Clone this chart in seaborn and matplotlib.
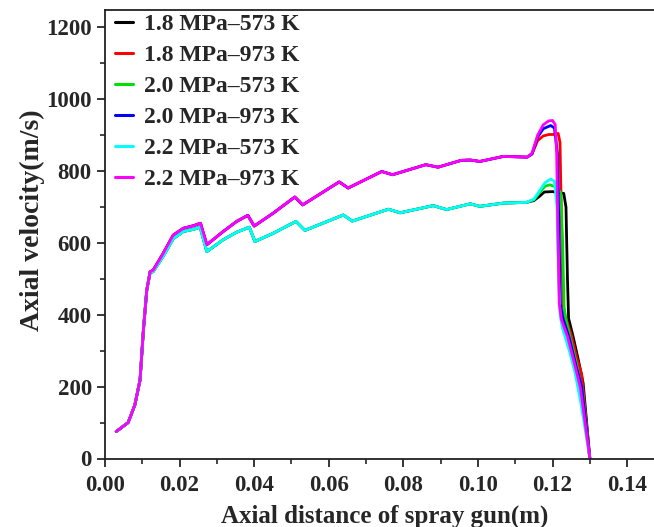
import numpy as np
import pandas as pd
import matplotlib
matplotlib.use("Agg")
import matplotlib.pyplot as plt
from matplotlib.ticker import MultipleLocator
import seaborn as sns

# ---------------- data ----------------
labels = ["1.8 MPa\u2013573 K", "1.8 MPa\u2013973 K", "2.0 MPa\u2013573 K",
          "2.0 MPa\u2013973 K", "2.2 MPa\u2013573 K", "2.2 MPa\u2013973 K"]
colors = ["#000000", "#ff0000", "#00e000", "#0000ff", "#00ffff", "#ff00ff"]

# common part of the 973 K curves
hot_x = [0.0030, 0.0062, 0.0080, 0.0094, 0.0103, 0.0112, 0.0121, 0.0129, 0.0156,
         0.0183, 0.0210, 0.0237, 0.0256, 0.0273, 0.0317, 0.0353, 0.0383, 0.0400,
         0.0451, 0.0509, 0.0530, 0.0628, 0.0652, 0.0742, 0.0771, 0.0860, 0.0893,
         0.0955, 0.0979, 0.1005, 0.1068, 0.1132]
hot_y = [75, 100, 149, 219, 358, 469, 520, 524, 571,
         622, 641, 648, 655, 595, 632, 660, 677, 647,
         683, 728, 706, 770, 753, 799, 790, 818, 811,
         830, 831, 827, 841, 839]

# common part of the 573 K curves
cold_x = [0.0030, 0.0062, 0.0080, 0.0094, 0.0103, 0.0112, 0.0121, 0.0129, 0.0156,
          0.0183, 0.0210, 0.0237, 0.0255, 0.0273, 0.0317, 0.0353, 0.0387, 0.0402,
          0.0451, 0.0512, 0.0536, 0.0639, 0.0663, 0.0760, 0.0791, 0.0880, 0.0916,
          0.0979, 0.1005, 0.1068, 0.1130]
cold_y = [75, 100, 149, 219, 358, 469, 518, 520, 563,
          612, 632, 638, 644, 576, 609, 630, 644, 604,
          627, 660, 635, 678, 661, 694, 684, 704, 693,
          709, 702, 711, 713]

# individual tails near the nozzle exit
tail_x_18_573 = [0.1150, 0.1165, 0.1178, 0.1200, 0.1230, 0.1236, 0.1240, 0.1243, 0.1255, 0.1270, 0.1282, 0.1300]
tail_y_18_573 = [718, 730, 742, 743, 738, 700, 500, 390, 340, 270, 210, 0]
tail_x_18_973 = [0.1145, 0.1160, 0.1175, 0.1190, 0.1205, 0.1215, 0.1220, 0.1224, 0.1228, 0.1234, 0.1250, 0.1265, 0.1278, 0.1300]
tail_y_18_973 = [848, 885, 898, 902, 902, 905, 880, 650, 430, 395, 345, 280, 235, 0]
tail_x_20_573 = [0.1150, 0.1165, 0.1180, 0.1193, 0.1210, 0.1222, 0.1227, 0.1231, 0.1236, 0.1250, 0.1265, 0.1280, 0.1300]
tail_y_20_573 = [720, 740, 758, 762, 755, 740, 600, 420, 385, 325, 260, 190, 0]
tail_x_20_973 = [0.1145, 0.1160, 0.1175, 0.1195, 0.1205, 0.1213, 0.1217, 0.1221, 0.1228, 0.1245, 0.1262, 0.1278, 0.1300]
tail_y_20_973 = [848, 895, 918, 927, 920, 850, 650, 430, 390, 335, 262, 200, 0]
tail_x_22_573 = [0.1150, 0.1165, 0.1180, 0.1195, 0.1205, 0.1212, 0.1216, 0.1220, 0.1226, 0.1245, 0.1260, 0.1275, 0.1300]
tail_y_22_573 = [722, 745, 768, 778, 772, 700, 500, 400, 365, 300, 240, 160, 0]
tail_x_22_973 = [0.1145, 0.1160, 0.1175, 0.1190, 0.1200, 0.1207, 0.1211, 0.1214, 0.1218, 0.1224, 0.1240, 0.1258, 0.1275, 0.1300]
tail_y_22_973 = [850, 900, 929, 940, 941, 930, 850, 650, 430, 386, 340, 268, 195, 0]

series = [
    (labels[0], cold_x + tail_x_18_573, cold_y + tail_y_18_573),
    (labels[1], hot_x + tail_x_18_973, hot_y + tail_y_18_973),
    (labels[2], cold_x + tail_x_20_573, cold_y + tail_y_20_573),
    (labels[3], hot_x + tail_x_20_973, hot_y + tail_y_20_973),
    (labels[4], cold_x + tail_x_22_573, cold_y + tail_y_22_573),
    (labels[5], hot_x + tail_x_22_973, hot_y + tail_y_22_973),
]

rows = []
for name, xs, ys in series:
    for i, (xv, yv) in enumerate(zip(xs, ys)):
        rows.append({"case": name, "x": xv, "y": yv, "order": i})
df = pd.DataFrame(rows)

# ---------------- plot ----------------
sns.set_style("ticks")
plt.rcParams["font.family"] = ["Liberation Serif", "DejaVu Serif"]
plt.rcParams["font.weight"] = "bold"

fig = plt.figure(figsize=(6.54, 5.27), dpi=100)
ax = fig.add_axes([105 / 654, 1 - 458.5 / 527, 1 - 105 / 654, (458.5 - 9.5) / 527])

sns.lineplot(data=df, x="x", y="y", hue="case", hue_order=labels,
             palette=dict(zip(labels, colors)), estimator=None, sort=False,
             units="case", linewidth=2.0, ax=ax, legend=False)

ax.set_xlim(0, 0.1472)
ax.set_ylim(0, 1250)
ax.xaxis.set_major_locator(MultipleLocator(0.02))
ax.xaxis.set_minor_locator(MultipleLocator(0.01))
ax.yaxis.set_major_locator(MultipleLocator(200))
ax.yaxis.set_minor_locator(MultipleLocator(100))
ax.xaxis.set_major_formatter(matplotlib.ticker.FormatStrFormatter("%.2f"))
ax.tick_params(which="major", direction="out", length=6, width=1.3, labelsize=16.5)
ax.tick_params(axis="x", which="major", pad=6)
ax.tick_params(which="minor", direction="out", length=3.5, width=1.2)
for s in ["left", "bottom", "top"]:
    ax.spines[s].set_linewidth(1.3)
    ax.spines[s].set_color("#222222")
ax.spines["right"].set_visible(False)
ax.tick_params(top=False, right=False)

ax.set_xlabel("Axial distance of spray gun(m)", fontsize=18, fontweight="bold")
ax.set_ylabel("Axial velocity(m/s)", fontsize=20, fontweight="bold")
ax.xaxis.set_label_coords(0.51, -0.102)
ax.yaxis.set_label_coords(-0.11, 0.531)

handles = [matplotlib.lines.Line2D([], [], color=c, lw=2.2) for c in colors]
leg = ax.legend(handles, labels, loc="upper left", bbox_to_anchor=(-0.012, 1.028),
                frameon=False, fontsize=17, handlelength=0.75, handletextpad=0.5,
                labelspacing=0.4, borderaxespad=0.3)
for t in leg.get_texts():
    t.set_fontweight("bold")

fig.savefig("out.png", dpi=100)
